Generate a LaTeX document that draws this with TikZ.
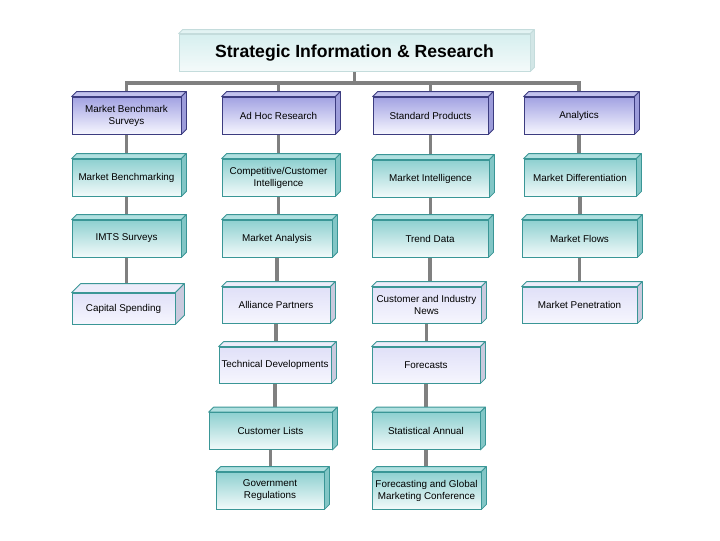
\documentclass[tikz,border=0pt]{standalone}
\usepackage{fontspec}
\setmainfont{Liberation Sans}
\usetikzlibrary{calc,backgrounds}
\definecolor{linkgray}{HTML}{808080}
\definecolor{navyedge}{HTML}{3C3C80}
\definecolor{tealedge}{HTML}{3A9696}
\definecolor{headedge}{HTML}{C4DCDC}
\definecolor{headtop}{HTML}{D6EFEF}
\definecolor{headlow}{HTML}{F4FAFA}
\definecolor{headlid}{HTML}{E2F3F3}
\definecolor{headside}{HTML}{D2E6E6}
\definecolor{areatop}{HTML}{A2A2E2}
\definecolor{arealow}{HTML}{F6F6FF}
\definecolor{arealid}{HTML}{C2C2EE}
\definecolor{areaside}{HTML}{9C9CDA}
\definecolor{tealtop}{HTML}{8ED0D0}
\definecolor{teallow}{HTML}{F2FAFA}
\definecolor{teallid}{HTML}{B0E0E0}
\definecolor{tealside}{HTML}{82C6C6}
\definecolor{lavtop}{HTML}{E0E0F8}
\definecolor{lavlow}{HTML}{F6F6FE}
\definecolor{lavlid}{HTML}{ECECFA}
\definecolor{lavside}{HTML}{CACADE}
\newcommand{\cubefaces}[5]{%
    \begin{pgfinterruptpath}
    \draw[draw=#4, fill=#2, line width=0.6pt, line join=round]
        (#1.north west) -- ++(#5,-#5) -- ($(#1.north east)+(#5,-#5)$) -- (#1.north east) -- cycle;
    \draw[draw=#4, fill=#3, line width=0.6pt, line join=round]
        (#1.north east) -- ++(#5,-#5) -- ($(#1.south east)+(#5,-#5)$) -- (#1.south east) -- cycle;
    \end{pgfinterruptpath}%
}
\tikzset{
    cube/.style n args={4}{
        draw=#3, line width=0.6pt, align=center, inner sep=1pt,
        minimum height=27.75pt,
        font=\fontsize{7.4}{9}\selectfont,
        append after command={\pgfextra{\cubefaces{\tikzlastnode}{#1}{#2}{#3}{#4}}}
    },
    wd/.style={minimum width=#1*0.75pt},
    headbox/.style={cube={headlid}{headside}{headedge}{4},
        top color=headtop, bottom color=headlow,
        font=\bfseries\fontsize{13.2}{15}\selectfont},
    areabox/.style={cube={arealid}{areaside}{navyedge}{5},
        top color=areatop, bottom color=arealow},
    tealbox/.style={cube={teallid}{tealside}{tealedge}{5},
        top color=tealtop, bottom color=teallow},
    lavbox/.style={cube={lavlid}{lavside}{tealedge}{#1},
        top color=lavtop, bottom color=lavlow, minimum height=27pt},
    lavbox/.default=5,
    link/.style={draw=linkgray, line width=2.8pt}
}
\begin{document}
\begin{tikzpicture}[x=0.75pt, y=-0.75pt]
    \useasboundingbox (0,0) rectangle (720,540);
    \node[headbox, wd=351] (sir) at (354.5,52.5) {Strategic Information \& Research};
    % first row
    \node[areabox, wd=109] (mbs) at (126.5,115.5) {Market Benchmark\\Surveys};
    \node[areabox, wd=113] (ahr) at (278.5,115.5) {Ad Hoc Research};
    \node[areabox, wd=115] (stp) at (430.5,115.5) {Standard Products};
    \node[areabox, wd=110] (ana) at (579,115.5) {Analytics};
    % second row
    \node[tealbox, wd=109] (mbk) at (126.5,177.5) {Market Benchmarking};
    \node[tealbox, wd=113] (cci) at (278.5,177.5) {Competitive/Customer\\Intelligence};
    \node[tealbox, wd=117] (min) at (430.5,178.5) {Market Intelligence};
    \node[tealbox, wd=112] (mdf) at (580,177.5) {Market Differentiation};
    % third row
    \node[tealbox, wd=109] (ims) at (126.5,238.5) {IMTS Surveys};
    \node[tealbox, wd=110] (man) at (277,238.5) {Market Analysis};
    \node[tealbox, wd=116] (trd) at (430,238.5) {Trend Data};
    \node[tealbox, wd=115] (mfl) at (579.5,238.5) {Market Flows};
    % fourth row
    \node[lavbox=9, wd=103, minimum height=23.25pt] (csp) at (123.5,308.5) {Capital Spending};
    \node[lavbox, wd=108] (alp) at (276,305) {Alliance Partners};
    \node[lavbox, wd=109] (cin) at (426.5,305) {Customer and Industry\\News};
    \node[lavbox, wd=115] (mpe) at (579.5,305) {Market Penetration};
    % lower rows
    \node[lavbox, wd=112] (tdv) at (275,365) {Technical Developments};
    \node[lavbox, wd=108] (fct) at (426,365) {Forecasts};
    \node[tealbox, wd=123] (cls) at (270.5,431) {Customer Lists};
    \node[tealbox, wd=108] (sta) at (426,431) {Statistical Annual};
    \node[tealbox, wd=108] (gvr) at (270,490.5) {Government\\Regulations};
    \node[tealbox, wd=109] (fgm) at (426.5,490.5) {Forecasting and Global\\Marketing Conference};
    \begin{scope}[on background layer]
        \coordinate (bar) at (354.5,83);
        \draw[link] (sir) -- (bar);
        \draw[link] (mbs.center) |- (bar) -| (ana.center);
        \foreach \n in {ahr,stp}
            \draw[link] (\n.center) -- (\n |- bar);
        \foreach \a/\b in {mbs/mbk,mbk/ims,ims/csp,ahr/cci,cci/man,man/alp,alp/tdv,tdv/cls,cls/gvr,
                stp/min,min/trd,trd/cin,cin/fct,fct/sta,sta/fgm,ana/mdf,mdf/mfl,mfl/mpe}
            \draw[link] (\a.center) -- (\a.center |- \b.center);
    \end{scope}
\end{tikzpicture}
\end{document}
